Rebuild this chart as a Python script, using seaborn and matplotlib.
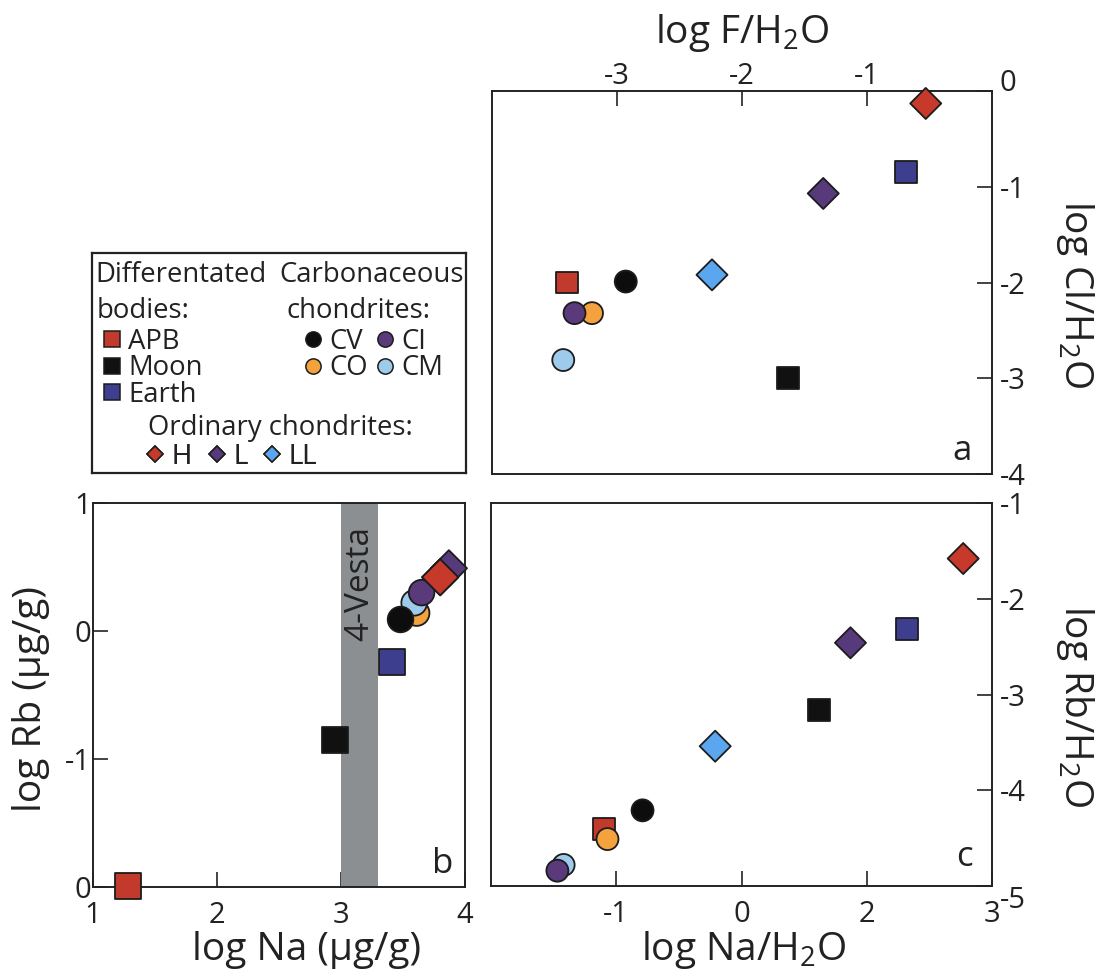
import numpy as np
import pandas as pd
import matplotlib
matplotlib.use("Agg")
import matplotlib.pyplot as plt
from matplotlib.lines import Line2D
import seaborn as sns

# ---------------- data ----------------
objects = ["APB", "Moon", "Earth", "CO", "CM", "CV", "CI", "LL", "L", "H"]
colors = {"APB": "#c23a2c", "Moon": "#111111", "Earth": "#3d3e8e",
          "CV": "#0d0d0d", "CI": "#5b3a7c", "CO": "#f3a23e", "CM": "#9ecbec",
          "H": "#c6392b", "L": "#563a7b", "LL": "#5ba7ef"}
markers = {"APB": "s", "Moon": "s", "Earth": "s",
           "CV": "o", "CI": "o", "CO": "o", "CM": "o",
           "H": "D", "L": "D", "LL": "D"}

# panel a
log_F_H2O = [-3.40, -1.63, -0.69, -3.20, -3.43, -2.93, -3.34, -2.24, -1.35, -0.53]
log_Cl_H2O = [-2.00, -3.00, -0.85, -2.32, -2.81, -1.99, -2.32, -1.92, -1.07, -0.13]
# panel b
log_Na = [1.28, 2.95, 3.41, 3.61, 3.59, 3.48, 3.65, 3.80, 3.87, 3.80]
log_Rb = [-1.99, -0.85, -0.24, 0.14, 0.22, 0.09, 0.30, 0.42, 0.49, 0.42]
# panel c
log_Na_H2O = [-1.10, 0.62, 1.32, -1.07, -1.42, -0.79, -1.47, -0.21, 0.87, 1.77]
log_Rb_H2O = [-4.40, -3.16, -2.32, -4.51, -4.78, -4.21, -4.84, -3.54, -2.46, -1.58]

vesta_range = [3.0, 3.3]

a_xticks, a_xlabels = [-3, -2, -1], ["-3", "-2", "-1"]
a_yticks, a_ylabels = [0, -1, -2, -3, -4], ["0", "-1", "-2", "-3", "-4"]
b_xticks, b_xlabels = [1, 2, 3, 4], ["1", "2", "3", "4"]
b_yticks, b_ylabels = [1, 0, -1, -2], ["1", "0", "-1", "0"]
c_xticks, c_xlabels = [-1, 0, 1, 2], ["-1", "0", "2", "3"]
c_yticks, c_ylabels = [-1, -2, -3, -4, -5], ["-1", "-2", "-3", "-4", "-5"]

legend_groups = [["APB", "Moon", "Earth"], ["CV", "CO", "CI", "CM"], ["H", "L", "LL"]]

# ---------------- style ----------------
sns.set_style("ticks")
plt.rcParams["font.family"] = ["Open Sans", "DejaVu Sans"]
plt.rcParams["mathtext.fontset"] = "custom"
plt.rcParams["mathtext.rm"] = "Open Sans"
plt.rcParams["mathtext.it"] = "Open Sans:italic"
plt.rcParams["mathtext.bf"] = "Open Sans:bold"
plt.rcParams["axes.unicode_minus"] = False

INK = "#222222"
TICK_FS = 21
LABEL_FS = 28
EDGE = "#1c1c1c"

W, H = 1102, 977
fig = plt.figure(figsize=(W / 100, H / 100), dpi=100)


def rect(l, t, r, b):
    return [l / W, 1 - b / H, (r - l) / W, (b - t) / H]


ax_a = fig.add_axes(rect(492, 91, 992, 474))
ax_b = fig.add_axes(rect(93, 503, 465, 887))
ax_c = fig.add_axes(rect(491, 503, 992, 886))
ax_l = fig.add_axes(rect(92, 253, 466, 473))


def draw(ax, x, y, s):
    df = pd.DataFrame({"obj": objects, "x": x, "y": y})
    sns.scatterplot(data=df, x="x", y="y", hue="obj", style="obj",
                    palette=colors, markers=markers, s=s,
                    edgecolor=EDGE, linewidth=1.3, legend=False, ax=ax, zorder=3)
    for c in ax.collections:
        c.set_clip_on(False)


def frame(ax):
    for sp in ax.spines.values():
        sp.set_visible(True)
        sp.set_color(INK)
        sp.set_linewidth(1.4)


# ---------------- panel a ----------------
draw(ax_a, log_F_H2O, log_Cl_H2O, 250)
ax_a.set_xlim(-4, 0)
ax_a.set_ylim(-4, 0)
ax_a.xaxis.tick_top()
ax_a.yaxis.tick_right()
ax_a.set_xticks(a_xticks, a_xlabels)
ax_a.set_yticks(a_yticks, a_ylabels)
ax_a.tick_params(axis="x", direction="in", length=10.5, width=1.2,
                 labelsize=TICK_FS, pad=0, colors=INK)
ax_a.tick_params(axis="y", direction="in", length=10.5, width=1.2,
                 labelsize=TICK_FS, pad=5.5, colors=INK)
ax_a.xaxis.set_label_position("top")
ax_a.yaxis.set_label_position("right")
ax_a.set_xlabel(r"log F/H$_{\mathregular{2}}$O", fontsize=LABEL_FS, color=INK)
ax_a.set_ylabel(r"log Cl/H$_{\mathregular{2}}$O", fontsize=LABEL_FS, color=INK, rotation=-90)
ax_a.xaxis.label.set_va("center")
ax_a.yaxis.label.set_va("center")
ax_a.yaxis.label.set_ha("center")
ax_a.xaxis.set_label_coords(0.5, 1 + (91 - 33) / 383)
ax_a.yaxis.set_label_coords((1075 - 492) / 500, 0.47)
for lab in ax_a.get_yticklabels():
    if lab.get_text() == "0":
        lab.set_verticalalignment("baseline")
ax_a.text(0.94, 0.06, "a", transform=ax_a.transAxes, fontsize=25,
          ha="center", va="center", color=INK)
frame(ax_a)

# ---------------- panel b ----------------
ax_b.axvspan(vesta_range[0], vesta_range[1], color="#8c8f92", lw=0, zorder=1)
ax_b.text(sum(vesta_range) / 2, 0.82, "4-Vesta", rotation=90, ha="center", va="top",
          fontsize=24, color=INK, zorder=2)
draw(ax_b, log_Na, log_Rb, 340)
ax_b.set_xlim(1, 4)
ax_b.set_ylim(-2, 1)
ax_b.set_xticks(b_xticks, b_xlabels)
ax_b.set_yticks(b_yticks, b_ylabels)
ax_b.tick_params(axis="x", direction="in", length=10.5, width=1.2,
                 labelsize=TICK_FS, pad=10, colors=INK)
ax_b.tick_params(axis="y", direction="in", length=10.5, width=1.2,
                 labelsize=TICK_FS, pad=1.5, colors=INK)
ax_b.set_xlabel("log Na (µg/g)", fontsize=LABEL_FS, color=INK)
ax_b.set_ylabel("log Rb (µg/g)", fontsize=LABEL_FS, color=INK)
ax_b.xaxis.label.set_va("center")
ax_b.yaxis.label.set_va("center")
ax_b.yaxis.label.set_ha("center")
ax_b.xaxis.set_label_coords((307 - 93) / 372, (887 - 950) / 384)
ax_b.yaxis.set_label_coords((31 - 93) / 372, 0.49)
ax_b.text(0.94, 0.06, "b", transform=ax_b.transAxes, fontsize=25,
          ha="center", va="center", color=INK)
frame(ax_b)

# ---------------- panel c ----------------
draw(ax_c, log_Na_H2O, log_Rb_H2O, 250)
ax_c.set_xlim(-2, 2)
ax_c.set_ylim(-5, -1)
ax_c.yaxis.tick_right()
ax_c.set_xticks(c_xticks, c_xlabels)
ax_c.set_yticks(c_yticks, c_ylabels)
ax_c.tick_params(axis="x", direction="in", length=10.5, width=1.2,
                 labelsize=TICK_FS, pad=10, colors=INK)
ax_c.tick_params(axis="y", direction="in", length=10.5, width=1.2,
                 labelsize=TICK_FS, pad=5.5, colors=INK)
ax_c.yaxis.set_label_position("right")
ax_c.set_xlabel(r"log Na/H$_{\mathregular{2}}$O", fontsize=LABEL_FS, color=INK)
ax_c.set_ylabel(r"log Rb/H$_{\mathregular{2}}$O", fontsize=LABEL_FS, color=INK, rotation=-90)
ax_c.xaxis.label.set_va("center")
ax_c.yaxis.label.set_va("center")
ax_c.yaxis.label.set_ha("center")
ax_c.xaxis.set_label_coords(0.505, (886 - 950) / 383)
ax_c.yaxis.set_label_coords((1075 - 491) / 501, 0.47)
for lab in ax_c.get_yticklabels():
    if lab.get_text() == "-5":
        lab.set_verticalalignment("top")
ax_c.text(0.945, 0.075, "c", transform=ax_c.transAxes, fontsize=25,
          ha="center", va="center", color=INK)
frame(ax_c)

# ---------------- legend box ----------------
ax_l.set_xticks([])
ax_l.set_yticks([])
ax_l.set_facecolor("white")
for sp in ax_l.spines.values():
    sp.set_visible(True)
    sp.set_color(INK)
    sp.set_linewidth(1.6)

LEG_FS = 19.8
legend_ms = {"s": 12, "o": 11, "D": 8.5}


def proxy(o):
    m = markers[o]
    return Line2D([], [], ls="none", marker=m, markerfacecolor=colors[o],
                  markeredgecolor=EDGE, markeredgewidth=1.1,
                  markersize=legend_ms[m], label=o)


def fig_pt(px, py):
    return (px / W, 1 - py / H)


heads = [("Differentated", 95, 282), ("bodies:", 97, 318),
         ("Carbonaceous", 279, 282), ("chondrites:", 286, 318),
         ("Ordinary chondrites:", 148, 435)]
for txt, px, py in heads:
    fig.text(*fig_pt(px, py), txt, ha="left", va="baseline", fontsize=LEG_FS, color=INK)

leg_specs = [(legend_groups[0], 1, (101, 328), 0.2),
             (legend_groups[1], 2, (302, 328), 0.2),
             (legend_groups[2], 3, (144, 443), 0.5)]
for grp, ncol, anchor, cs in leg_specs:
    leg = ax_l.legend(handles=[proxy(o) for o in grp], ncol=ncol, loc="upper left",
                      bbox_to_anchor=fig_pt(*anchor), bbox_transform=fig.transFigure,
                      frameon=False, borderpad=0, borderaxespad=0, fontsize=LEG_FS,
                      handlelength=0.8, handletextpad=0.2, labelspacing=-0.06,
                      columnspacing=cs)
    for t in leg.get_texts():
        t.set_color(INK)
    ax_l.add_artist(leg)

fig.savefig("out.png", dpi=100)
